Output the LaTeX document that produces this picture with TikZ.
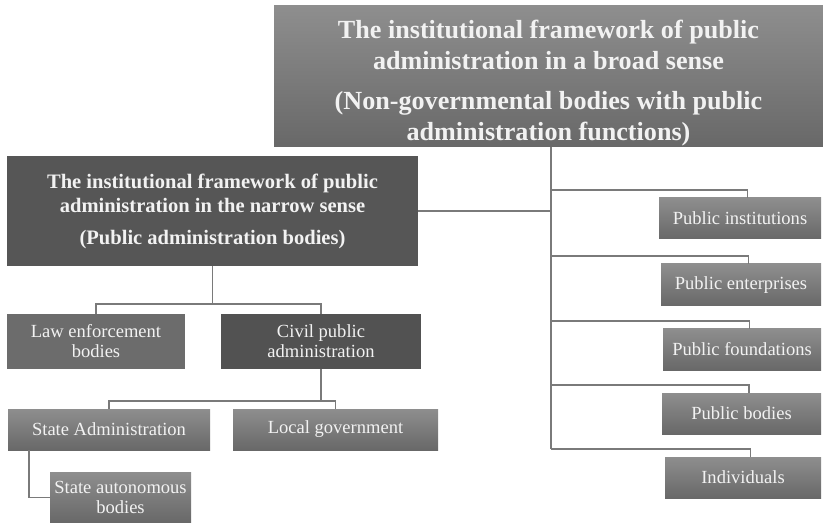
\documentclass[tikz,border=0pt]{standalone}
\usepackage{fontspec}
\setmainfont{Liberation Serif}
\definecolor{boxtop}{HTML}{8E8E8E}
\definecolor{boxbot}{HTML}{686868}
\definecolor{darkbox}{HTML}{565656}
\definecolor{civilbox}{HTML}{525252}
\definecolor{lawbox}{HTML}{6C6C6C}
\definecolor{linkgray}{HTML}{7A7A7A}
\begin{document}
\begin{tikzpicture}[x=0.75pt,y=-0.75pt,
  every node/.style={inner sep=0pt, align=center, text=white!95!black},
  grad/.style={shade, top color=boxtop, bottom color=boxbot},
  small/.style={font=\fontsize{13.9}{15}\selectfont},
  link/.style={draw=linkgray, line width=1.2pt}]
\useasboundingbox (0,0) rectangle (823,523);

% broad-sense framework
\node[grad, minimum width=411.75pt, minimum height=105.75pt] (broad) at (548.5,76.5) {};
\node[font=\bfseries\fontsize{19.6}{23.5}\selectfont] (broadtext) at ([yshift=-5pt]broad.center)
  {The institutional framework of public\\administration in a broad sense\\[6pt](Non-governmental bodies with public\\administration functions)};

% narrow-sense framework
\node[fill=darkbox, minimum width=308.25pt, minimum height=82.5pt,
      font=\bfseries\fontsize{15.4}{18}\selectfont] (narrow) at (212.5,211)
  {The institutional framework of public\\administration in the narrow sense\\[6pt](Public administration bodies)};

% second level
\node[fill=lawbox, small, minimum width=133.5pt, minimum height=41.25pt] (law) at (96,341.5) {Law enforcement\\bodies};
\node[fill=civilbox, small, minimum width=150pt, minimum height=41.25pt] (civil) at (321,341.5) {Civil public\\administration};

% third level
\node[grad, small, minimum width=151.5pt, minimum height=30.75pt] (state) at (109,429.5) {State Administration};
\node[grad, small, minimum width=153.75pt, minimum height=30.75pt] (local) at (335.5,429.5) {Local government};
\node[grad, small, minimum width=105.75pt, minimum height=38.25pt] (auto) at (120.5,497.5) {State autonomous\\bodies};

% non-governmental bodies
\node[grad, small, minimum width=121.5pt, minimum height=30.75pt] (inst) at (740,218.5) {Public institutions};
\node[grad, small, minimum width=120pt, minimum height=31.5pt] (ent) at (741,285) {Public enterprises};
\node[grad, small, minimum width=118.5pt, minimum height=30.75pt] (found) at (742,349.5) {Public foundations};
\node[grad, small, minimum width=119.25pt, minimum height=30.75pt] (pbod) at (741.5,413.5) {Public bodies};
\node[grad, small, minimum width=117pt, minimum height=30.75pt] (indiv) at (743,477.5) {Individuals};

% trunk line
\coordinate (trunk) at (551,0);
\draw[link] (broad.south -| trunk) -- ([yshift=6pt]indiv.north -| trunk);
\draw[link] (narrow.east) -- (narrow.east -| trunk);
\foreach \n in {inst,ent,found,pbod,indiv}
  \draw[link] ([xshift=5.5pt]\n.north) |- ([yshift=6pt]\n.north -| trunk);

% narrow-sense branches
\draw[link] (narrow.south) -- ++(0,38) coordinate (j1);
\draw[link] (law.north) |- (j1) -| (civil.north);
\draw[link] (civil.south) -- ++(0,32) coordinate (j2);
\draw[link] (state.north) |- (j2) -| (local.north);
\draw[link] (auto.west) -| ([xshift=15.75pt]state.south west);
\end{tikzpicture}
\end{document}
